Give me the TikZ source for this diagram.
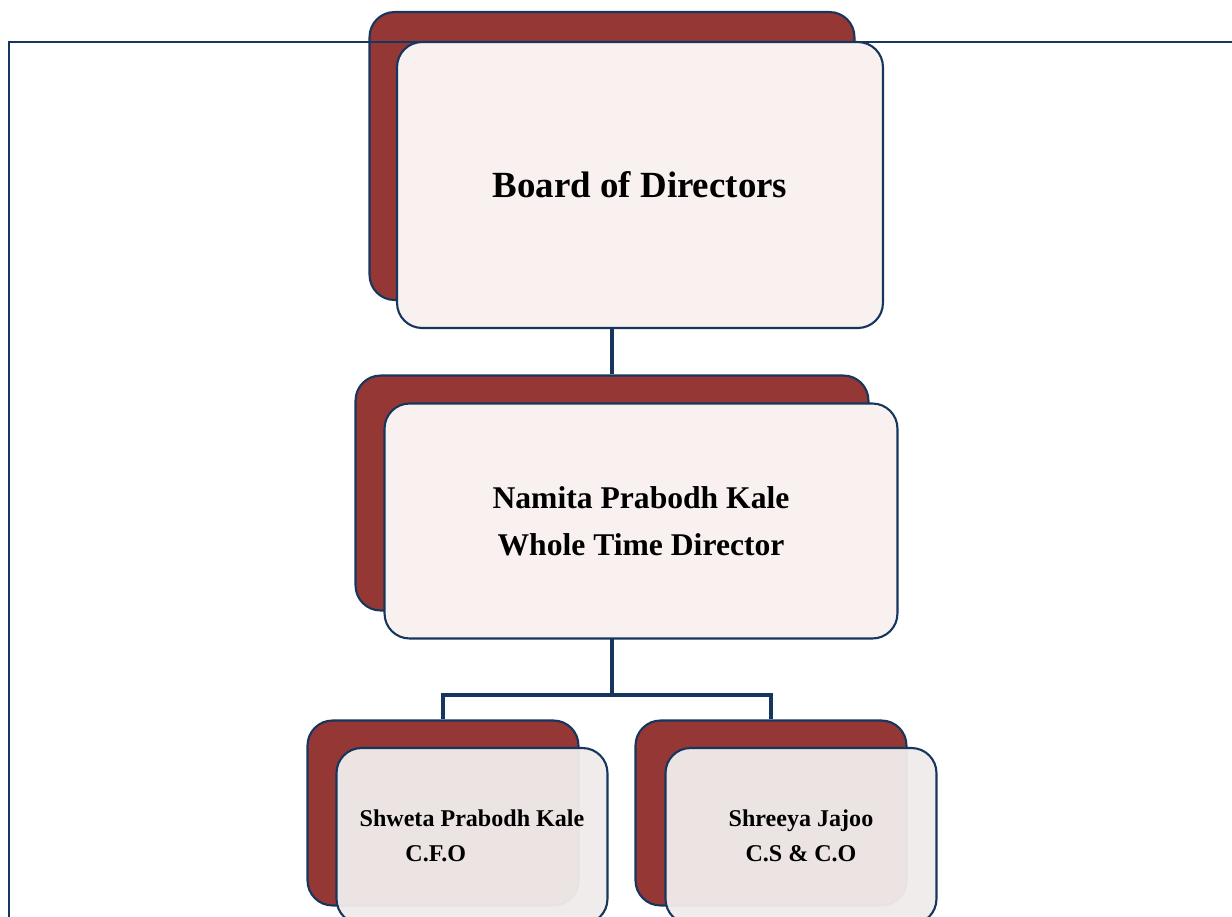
\documentclass[tikz,border=0pt]{standalone}
\usepackage{fontspec}
\setmainfont{Liberation Serif}
\usetikzlibrary{positioning}

\definecolor{navy}{HTML}{17365D}
\definecolor{boxred}{HTML}{953735}
\definecolor{boxpink}{HTML}{F9F1F0}
\definecolor{boxgrey}{HTML}{F0EBEB}

\begin{document}
\begin{tikzpicture}[x=0.02cm, y=-0.02cm,
  backbox/.style={rectangle, rounded corners=0.5cm, draw=navy, line width=1.2pt, fill=boxred},
  frontbox/.style={rectangle, rounded corners=0.5cm, draw=navy, line width=1.2pt, fill=boxpink, align=center, font=\bfseries},
  link/.style={draw=navy, line width=2.6pt}]

% Organisation chart: each box is a red card behind a light card.

\useasboundingbox (0,0) rectangle (1232,917);

\node[backbox, minimum width=9.7cm, minimum height=5.76cm] (bodback) at (612,156) {};
\node[backbox, minimum width=10.26cm, minimum height=4.7cm] (wtdback) at (612,493) {};
\node[backbox, minimum width=5.42cm, minimum height=3.7cm] (cfoback) at (443,813) {};
\node[backbox, minimum width=5.42cm, minimum height=3.7cm] (csback) at (771,813) {};

\coordinate (fork) at (612,695);

\draw[link] (bodback.south) -- (wtdback.north);
\draw[link] (wtdback.south) -- (fork);
\draw[link] (fork) -| (cfoback.north);
\draw[link] (fork) -| (csback.north);

\draw[navy, line width=1.5pt] (9,917) -- (9,42) -- (1232,42);

\node[frontbox, minimum width=9.72cm, minimum height=5.72cm, font=\bfseries\fontsize{21}{25}\selectfont] (bod) at (640,185) {Board of Directors};
\node[frontbox, minimum width=10.26cm, minimum height=4.7cm, font=\bfseries\fontsize{18}{27}\selectfont] (wtd) at (641,521) {Namita Prabodh Kale\\Whole Time Director};
\node[frontbox, fill=boxgrey, fill opacity=0.96, text opacity=1, minimum width=5.42cm, minimum height=3.52cm, font=\bfseries\fontsize{13.7}{20}\selectfont] (cfo) at (472,836) {Shweta Prabodh Kale\\C.F.O\hspace*{1.45cm}};
\node[frontbox, fill=boxgrey, fill opacity=0.96, text opacity=1, minimum width=5.42cm, minimum height=3.52cm, font=\bfseries\fontsize{13.7}{20}\selectfont] (cs) at (801,836) {Shreeya Jajoo\\C.S \& C.O};

\end{tikzpicture}
\end{document}
